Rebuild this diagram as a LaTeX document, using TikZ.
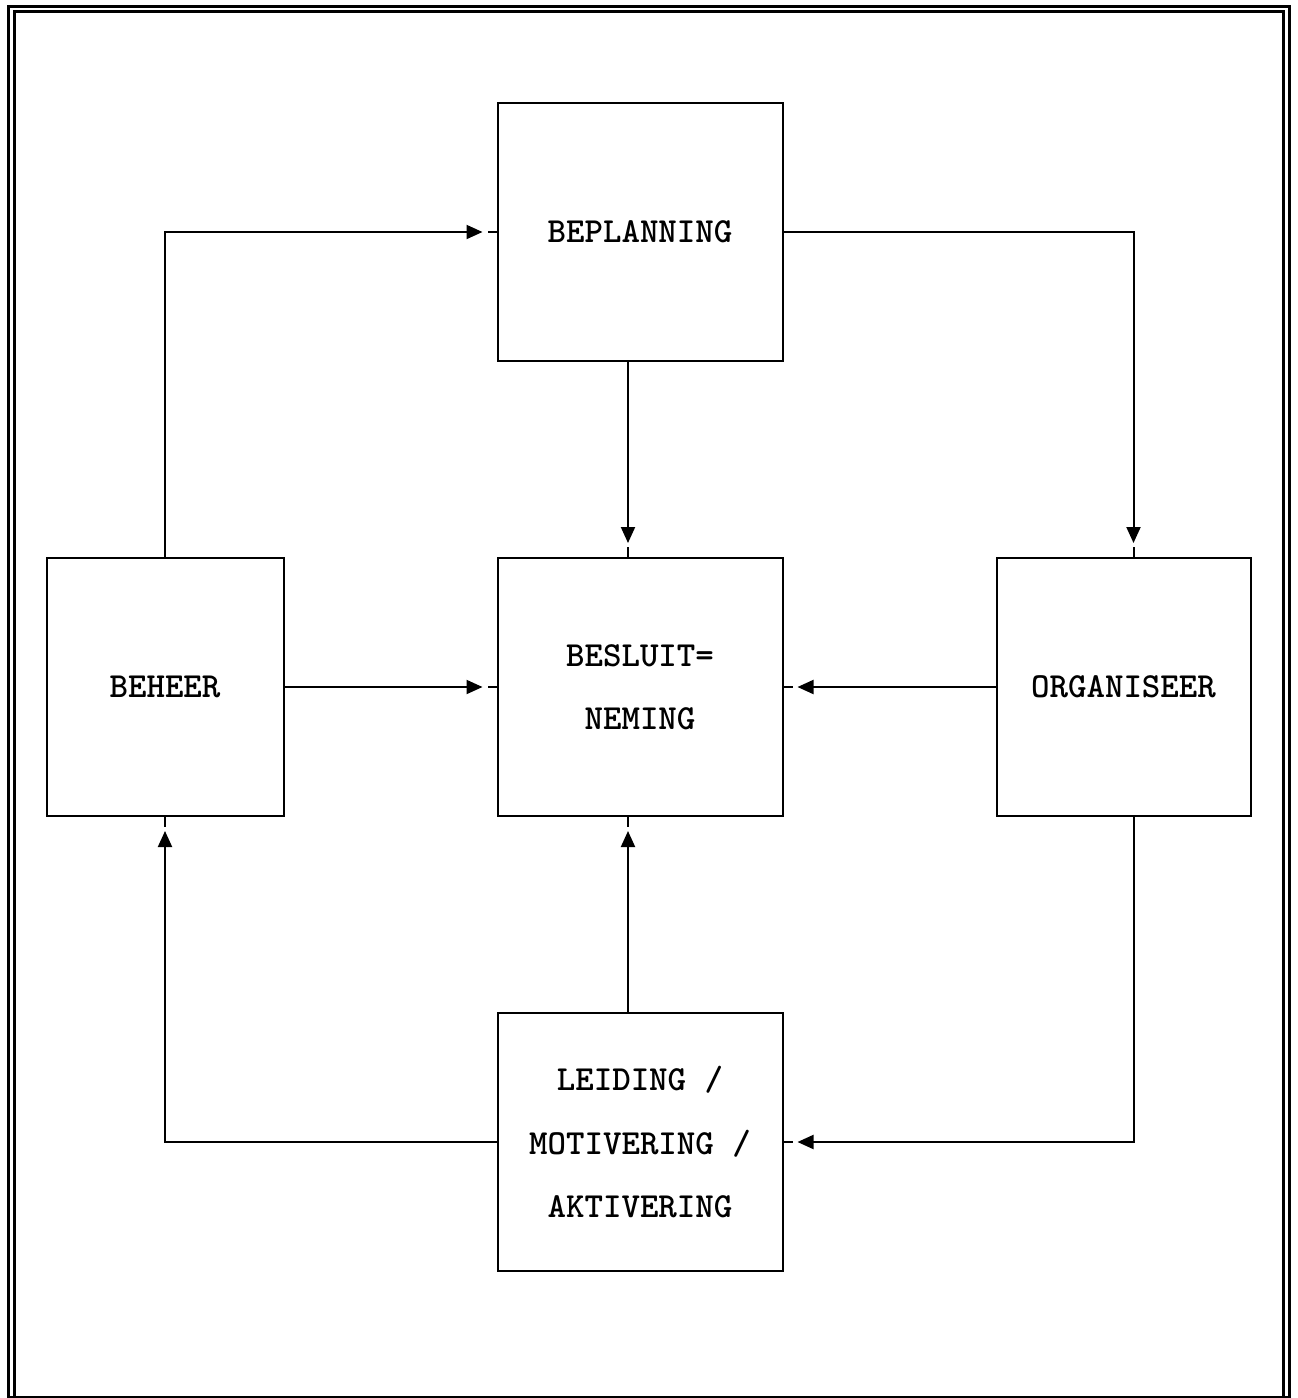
\documentclass[tikz,border=0pt]{standalone}
\usepackage{fontspec}
\usepackage{tikz}
\usetikzlibrary{arrows.meta,positioning}

\begin{document}
\begin{tikzpicture}[x=0.5pt, y=-0.5pt, >={Triangle[length=8pt,width=7pt]}]
    \tikzstyle{box} = [rectangle, draw=black, line width=1pt, minimum width=142.5pt, minimum height=129pt, inner sep=0pt, align=center, font=\ttfamily\bfseries\fontsize{17.6}{31.5}\selectfont]
    \tikzstyle{arrow} = [line width=1pt, ->, shorten >=7pt]
    \tikzstyle{stub} = [line width=1pt]
    \tikzstyle{frame} = [line width=1.5pt]

    \useasboundingbox (0,0) rectangle (1297,1398);
    \draw [frame] (8,6) rectangle (1289,1397);
    \draw [frame] (14,11) rectangle (1283,1397);

    \node (besluit) [box] at (640,687) {BESLUIT=\\NEMING};
    \node (beplan) [box, above=97.5pt of besluit] {BEPLANNING};
    \node (leiding) [box, below=97.5pt of besluit] {LEIDING /\\MOTIVERING /\\AKTIVERING};
    \node (beheer) [box, left=106pt of besluit, minimum width=118.5pt] {BEHEER};
    \node (organ) [box, right=106pt of besluit, minimum width=127pt] {ORGANISEER};

    \draw [arrow] (beheer.north) |- (beplan.west);
    \draw [arrow] (beplan.east) -| ([xshift=5pt]organ.north);
    \draw [arrow] ([xshift=-6pt]beplan.south) -- ([xshift=-6pt]besluit.north);
    \draw [arrow] (beheer.east) -- (besluit.west);
    \draw [arrow] (organ.west) -- (besluit.east);
    \draw [arrow] ([xshift=5pt]organ.south) |- (leiding.east);
    \draw [arrow] ([xshift=-6pt]leiding.north) -- ([xshift=-6pt]besluit.south);
    \draw [arrow] (leiding.west) -| (beheer.south);

    \draw [stub] (beplan.west) -- ++(-4.5pt,0);
    \draw [stub] ([xshift=5pt]organ.north) -- ++(0,5pt);
    \draw [stub] ([xshift=-6pt]besluit.north) -- ++(0,5pt);
    \draw [stub] (besluit.west) -- ++(-4.5pt,0);
    \draw [stub] (besluit.east) -- ++(4.5pt,0);
    \draw [stub] (leiding.east) -- ++(4.5pt,0);
    \draw [stub] ([xshift=-6pt]besluit.south) -- ++(0,-5pt);
    \draw [stub] (beheer.south) -- ++(0,-5pt);
\end{tikzpicture}
\end{document}
